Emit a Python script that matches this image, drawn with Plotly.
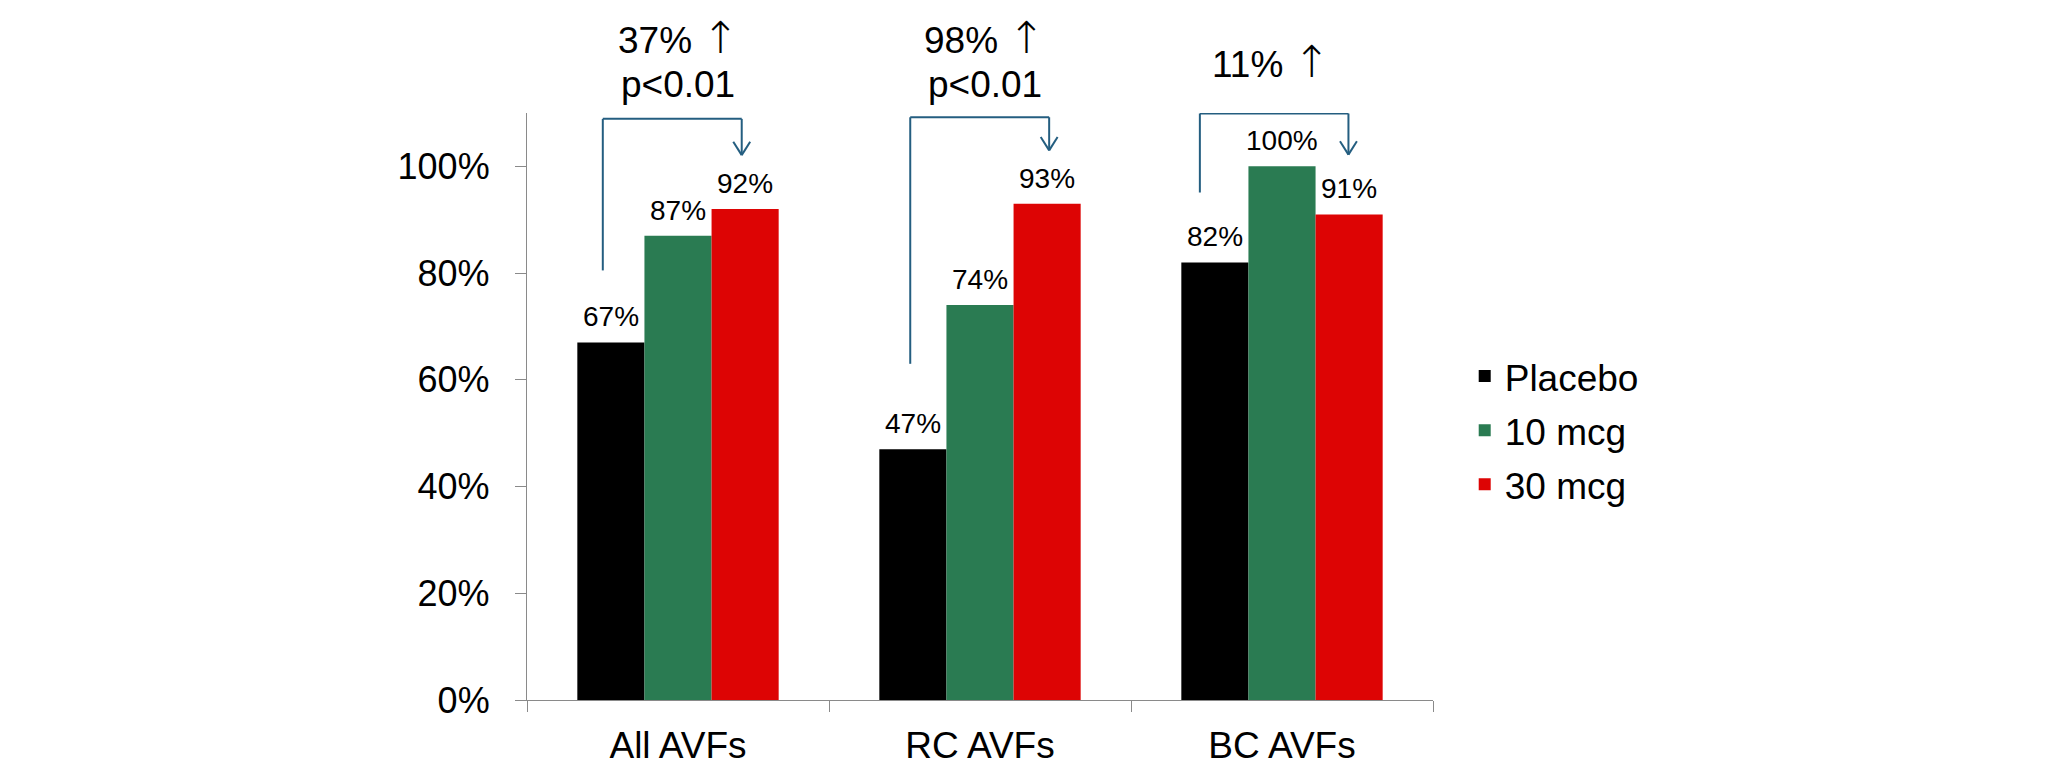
import plotly.graph_objects as go

# ---- data ----
categories = ["All AVFs", "RC AVFs", "BC AVFs"]
series_names = ["Placebo", "10 mcg", "30 mcg"]
placebo = [0.67, 0.47, 0.82]
mcg_10 = [0.87, 0.74, 1.00]
mcg_30 = [0.92, 0.93, 0.91]
y_tick_vals = [0, 0.2, 0.4, 0.6, 0.8, 1.0]
y_tick_text = ["0%", "20%", "40%", "60%", "80%", "100%"]
change_text = ["37%", "98%", "11%"]
p_text = ["p<0.01", "p<0.01", ""]

# ---- styling ----
FONT = "Liberation Sans, Arial, sans-serif"
COLORS = ["#000000", "#2A7B52", "#DD0404"]
AXIS_GREY = "#8A8A8A"
BRACKET = "#245E80"
Y_MAX = 1.1
UP_ARROW = '<span style="font-family:DejaVu Sans;font-size:44px;font-weight:200">\u2191</span>'

# bracket geometry per group: left offset, left foot, top, right offset, tip
bracket_left = [-0.249, -0.231, -0.272]
bracket_foot = [0.805, 0.63, 0.951]
bracket_top = [1.089, 1.092, 1.099]
bracket_right = [0.211, 0.229, 0.220]
bracket_tip = [1.021, 1.030, 1.022]
HEAD_DX, HEAD_DY = 0.028, 0.025

# header text placement (x offset from group centre, height in axis units)
head_dx = [0.0, 0.015, -0.035]
line1_y = [1.241, 1.241, 1.197]
line2_y = [1.153, 1.153, None]

BAR_WIDTH = (1 - 1 / 3) / 3
series = [placebo, mcg_10, mcg_30]

fig = go.Figure()
for i, (name, vals) in enumerate(zip(series_names, series)):
    fig.add_trace(go.Bar(
        x=categories, y=vals, name=name,
        marker=dict(color=COLORS[i], line=dict(width=0)),
        legendgroup=name,
    ))

annotations = []
# value labels above each bar
for i, vals in enumerate(series):
    offset = (i - 1) * BAR_WIDTH
    for j, v in enumerate(vals):
        annotations.append(dict(
            x=j + offset, y=v, xref="x", yref="y",
            text=f"{round(v * 100)}%", showarrow=False,
            yanchor="bottom", yshift=8,
            font=dict(family=FONT, size=28, color="#000000"),
        ))

# change / significance headers sit above the axis range, so place them
# on the paper scale (axis units divided by the axis maximum)
for j in range(len(categories)):
    annotations.append(dict(
        x=j + head_dx[j], y=line1_y[j] / Y_MAX, xref="x", yref="paper",
        text=f"{change_text[j]} {UP_ARROW}", showarrow=False, yanchor="middle",
        font=dict(family=FONT, size=37, color="#000000"),
    ))
    if p_text[j]:
        annotations.append(dict(
            x=j + head_dx[j], y=line2_y[j] / Y_MAX, xref="x", yref="paper",
            text=p_text[j], showarrow=False, yanchor="middle",
            font=dict(family=FONT, size=37, color="#000000"),
        ))

shapes = []
line_style = dict(color=BRACKET, width=2)
for j in range(len(categories)):
    xl = j + bracket_left[j]
    xr = j + bracket_right[j]
    segs = [
        (xl, bracket_foot[j], xl, bracket_top[j]),
        (xl, bracket_top[j], xr, bracket_top[j]),
        (xr, bracket_top[j], xr, bracket_tip[j]),
        (xr - HEAD_DX, bracket_tip[j] + HEAD_DY, xr, bracket_tip[j]),
        (xr + HEAD_DX, bracket_tip[j] + HEAD_DY, xr, bracket_tip[j]),
    ]
    for x0, y0, x1, y1 in segs:
        shapes.append(dict(type="line", xref="x", yref="y",
                           x0=x0, y0=y0, x1=x1, y1=y1, line=line_style))

fig.update_layout(
    width=2064, height=766,
    margin=dict(l=527, r=631, t=113, b=66, autoexpand=False),
    paper_bgcolor="white", plot_bgcolor="white",
    font=dict(family=FONT, color="#000000"),
    barmode="group", bargap=1 / 3, bargroupgap=0,
    showlegend=True,
    legend=dict(
        x=1.035, y=0.459, xanchor="left", yanchor="middle",
        font=dict(family=FONT, size=37, color="#000000"),
        traceorder="grouped", tracegroupgap=3, itemwidth=30,
        bgcolor="rgba(0,0,0,0)",
    ),
    annotations=annotations,
    shapes=shapes,
)
fig.update_xaxes(
    type="category", tickson="boundaries",
    ticks="outside", ticklen=11, tickcolor=AXIS_GREY, tickwidth=1.3,
    showline=True, linecolor=AXIS_GREY, linewidth=1.3,
    showgrid=False, zeroline=False, automargin=False,
    tickfont=dict(family=FONT, size=37, color="#000000"),
    ticklabelstandoff=12,
)
fig.update_yaxes(
    range=[0, Y_MAX], tickvals=y_tick_vals, ticktext=y_tick_text,
    ticks="outside", ticklen=11, tickcolor=AXIS_GREY, tickwidth=1.3,
    showline=True, linecolor=AXIS_GREY, linewidth=1.3,
    showgrid=False, zeroline=False, automargin=False,
    tickfont=dict(family=FONT, size=36, color="#000000"),
    ticklabelstandoff=18,
)

fig.write_html("out.html")
